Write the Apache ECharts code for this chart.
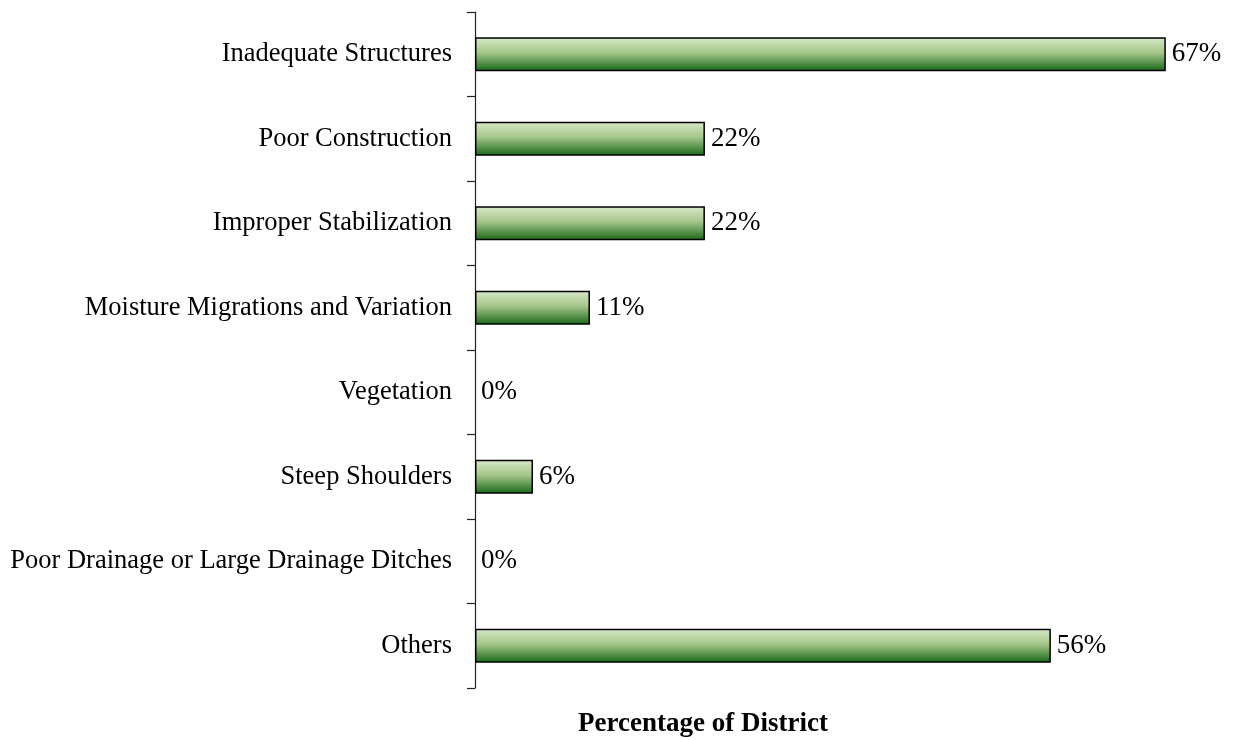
<!DOCTYPE html>
<html>
<head>
<meta charset="utf-8">
<script src="https://cdn.jsdelivr.net/npm/echarts@6/dist/echarts.min.js"></script>
<style>html,body{margin:0;padding:0;background:#fff;}#c{width:1234px;height:740px;}</style>
</head>
<body>
<div id="c"></div>
<script>
const categories = ["Inadequate Structures","Poor Construction","Improper Stabilization","Moisture Migrations and Variation","Vegetation","Steep Shoulders","Poor Drainage or Large Drainage Ditches","Others"];
const values = [66.7, 22.2, 22.2, 11.1, 0, 5.6, 0, 55.6];
const axisTitle = "Percentage of District";

const chart = echarts.init(document.getElementById('c'), null, {renderer:'canvas'});
const font = "Liberation Serif";
const seriesData = values.map(v => v === 0 ? {value: v, itemStyle: {borderWidth: 0}} : v);
chart.setOption({
  animation:false,
  grid:{left:475, right:34, top:12, bottom:52, containLabel:false},
  xAxis:{type:'value', min:0, max:70, show:false},
  yAxis:{type:'category', data:categories, inverse:true,
    axisLine:{lineStyle:{color:'#222', width:1.2}},
    axisTick:{show:true, length:8, lineStyle:{color:'#222', width:1.2}},
    axisLabel:{fontFamily:font, fontSize:26.5, color:'#000', margin:23}
  },
  series:[{type:'bar', data:seriesData, barCategoryGap:'60%',
    itemStyle:{borderColor:'#000', borderWidth:1.5,
      color:new echarts.graphic.LinearGradient(0,0,0,1,[
        {offset:0,color:'#d8e9c8'},{offset:0.45,color:'#a6c68a'},{offset:1,color:'#186818'}])},
    label:{show:true, position:'right', distance:6, fontFamily:font, fontSize:27, color:'#000',
      formatter:p=>Math.round(p.value)+'%'}
  }],
  graphic:[{type:'text', style:{text:axisTitle, x:703, y:724, textAlign:'center', textVerticalAlign:'middle',
    font:'bold 27px "Liberation Serif"', fill:'#000'}}]
});
</script>
</body>
</html>
